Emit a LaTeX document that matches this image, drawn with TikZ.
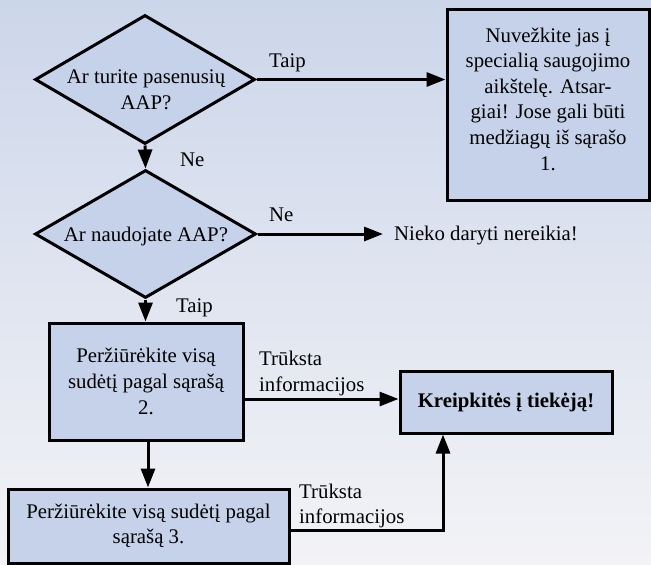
\documentclass[tikz,border=0pt]{standalone}
\usepackage{fontspec}
\setmainfont{Liberation Serif}
\usetikzlibrary{arrows.meta,shapes.geometric}
\definecolor{bgtop}{RGB}{204,214,234}
\definecolor{bgbot}{RGB}{243,243,246}
\definecolor{boxfill}{RGB}{197,210,233}
\tikzset{
  txt/.style={inner sep=0pt, font=\rmfamily\fontsize{20.8}{25.6}\selectfont, align=center},
  lbl/.style={inner sep=0pt, font=\rmfamily\fontsize{20.8}{25.6}\selectfont, align=left, anchor=west},
  stepbox/.style={draw=black, fill=boxfill, line width=3pt, inner sep=0pt},
  decision/.style={diamond, draw=black, fill=boxfill, line width=3pt, inner sep=0pt, shape aspect=1.7},
  arr/.style={line width=3pt, -{Triangle[length=19pt,width=14pt]}},
}
\begin{document}
\begin{tikzpicture}[x=1pt,y=-1pt]
\useasboundingbox (0,0) rectangle (651,565);
\shade[top color=bgtop, bottom color=bgbot] (0,0) rectangle (651,565);

% decisions
\node[decision, minimum width=220pt, minimum height=129pt] (d1) at (145,79.5) {};
\node[txt] (d1t) at (146,90) {Ar turite pasenusių\\AAP?};
\node[decision, minimum width=221pt, minimum height=128pt] (d2) at (145.5,234) {};
\node[txt] (d2t) at (146,236) {Ar naudojate AAP?};

% boxes
\node[stepbox, minimum width=202pt, minimum height=191pt] (b1) at (548,104.5) {};
\node[txt] (b1t) at (548,99) {Nuvežkite jas į\\specialią saugojimo\\aikštelę. Atsar-\\giai! Jose gali būti\\medžiagų iš sąrašo\\1.};
\node[stepbox, minimum width=194pt, minimum height=117pt, txt] (b2) at (146,381.5) {Peržiūrėkite visą\\sudėtį pagal sąrašą\\2.};
\node[stepbox, minimum width=281pt, minimum height=74pt, txt] (b3) at (148.5,526) {Peržiūrėkite visą sudėtį pagal\\sąrašą 3.};
\node[stepbox, minimum width=212pt, minimum height=62pt, txt, font=\rmfamily\fontsize{20.8}{25.6}\selectfont\bfseries] (b4) at (506,402) {Kreipkitės į tiekėją!};
\node[lbl] (nieko) at (394,236) {Nieko daryti nereikia!};

% labels
\node[lbl] (l1) at (269,63) {Taip};
\node[lbl] (l2) at (180,160) {Ne};
\node[lbl] (l3) at (269,215) {Ne};
\node[lbl] (l4) at (176,308) {Taip};
\node[lbl] (l5) at (259,373.5) {Trūksta\\informacijos};
\node[lbl] (l6) at (299,506) {Trūksta\\informacijos};

% connectors
\draw[arr] (d1.east) -- (d1.east -| b1.west);
\draw[arr] (d1.south) -- (d2.north);
\draw[arr] (d2.east) -- ([xshift=-11pt]d2.east -| nieko.west);
\draw[arr] (d2.south) -- (d2.south |- b2.north);
\draw[arr] (b2.south -| 148,0) -- (148,0 |- b3.north);
\coordinate (a4) at ([yshift=3pt]b4.west);
\draw[arr] (b2.east |- a4) -- (a4);
\coordinate (k) at (443,0);
\draw[arr] ([yshift=-4pt]b3.east) -| (k |- b4.south);
\end{tikzpicture}
\end{document}
